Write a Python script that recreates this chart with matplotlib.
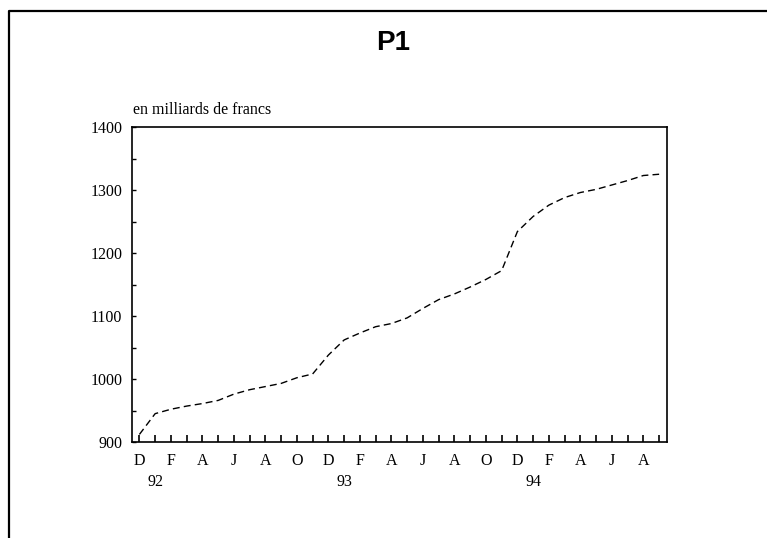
import matplotlib
matplotlib.use("Agg")
import matplotlib.pyplot as plt
from matplotlib.lines import Line2D

# monthly values, Dec 91 .. Sep 94
months = list(range(34))
values = [912, 945, 952, 957, 961, 966, 976, 983, 988, 993, 1002, 1008,
          1038, 1062, 1073, 1083, 1088, 1097, 1112, 1126, 1135, 1146, 1158, 1172,
          1234, 1258, 1276, 1288, 1296, 1301, 1308, 1315, 1323, 1325]

month_labels = ["D", "F", "A", "J", "A", "O", "D", "F", "A", "J", "A", "O",
                "D", "F", "A", "J", "A"]
year_labels = ["92", "93", "94"]
year_pos = [1, 13, 25]

W, H = 767, 538
fig = plt.figure(figsize=(W / 100, H / 100), dpi=100)

serif = "Liberation Serif"
fs = 11.5

# frame around the page (only left and top visible)
fig.add_artist(Line2D([9 / W, 9 / W, 1.0], [0.0, 1 - 11 / H, 1 - 11 / H],
                      transform=fig.transFigure, color="black", lw=1.6))

fig.text(393 / W, 1 - 43 / H, "P1", ha="center", va="center",
         fontsize=20, fontweight="bold", family="Liberation Sans")
fig.text(133 / W, 1 - 114 / H, "en milliards de francs", ha="left",
         va="baseline", fontsize=fs, family=serif)

ax = fig.add_axes([132 / W, 1 - 442 / H, 535 / W, 315 / H])
ax.plot(months, values, color="black", lw=1.0, linestyle=(0, (5, 3)))

ax.set_xlim(-0.47, 33.5)
ax.set_ylim(900, 1400)

ax.set_yticks([900, 1000, 1100, 1200, 1300, 1400])
ax.set_yticks(list(range(950, 1400, 100)), minor=True)
ax.set_xticks(months)
ax.set_xticklabels(["" for m in months])
ax.tick_params(axis="x", direction="in", length=5, width=1.2, pad=4)
ax.tick_params(axis="y", which="both", direction="in", length=3, width=1.0,
               pad=7, labelsize=fs)
for lbl in ax.get_yticklabels():
    lbl.set_family(serif)

for i, lab in enumerate(month_labels):
    ax.text(2 * i, -0.035, lab, transform=ax.get_xaxis_transform(),
            ha="center", va="top", fontsize=fs, family=serif)
for p, lab in zip(year_pos, year_labels):
    ax.text(p, -0.1, lab, transform=ax.get_xaxis_transform(),
            ha="center", va="top", fontsize=fs, family=serif)

for s in ax.spines.values():
    s.set_linewidth(1.2)

fig.savefig("out.png", dpi=100)
